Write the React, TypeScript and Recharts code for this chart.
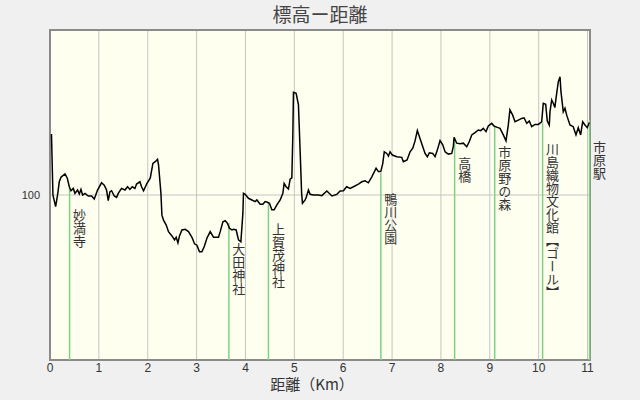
import { LineChart, Line, XAxis, YAxis, CartesianGrid, ReferenceLine, ReferenceDot, ReferenceArea } from 'recharts'

// 距離 (km) と標高 (m)
const distKm = [
  0.03, 0.06, 0.115, 0.155, 0.19, 0.225, 0.307, 0.354, 0.395, 0.43, 0.476, 0.511, 0.564, 0.599, 0.634, 0.667,
  0.716, 0.783, 0.851, 0.906, 0.973, 1.055, 1.11, 1.157, 1.192, 1.227, 1.26, 1.315, 1.362, 1.397, 1.464, 1.534,
  1.587, 1.636, 1.683, 1.738, 1.771, 1.84, 1.873, 1.914, 1.984, 2.051, 2.106, 2.153, 2.2, 2.221, 2.27, 2.29,
  2.323, 2.378, 2.425, 2.495, 2.548, 2.583, 2.618, 2.65, 2.699, 2.767, 2.834, 2.904, 2.957, 3.006, 3.059, 3.108,
  3.155, 3.211, 3.278, 3.346, 3.448, 3.483, 3.538, 3.585, 3.632, 3.673, 3.722, 3.755, 3.81, 3.857, 3.906, 3.947,
  3.959, 3.994, 4.061, 4.131, 4.198, 4.233, 4.301, 4.356, 4.403, 4.45, 4.491, 4.54, 4.587, 4.642, 4.71, 4.765,
  4.791, 4.832, 4.879, 4.914, 4.949, 4.969, 4.982, 5.037, 5.084, 5.119, 5.149, 5.166, 5.221, 5.247, 5.288, 5.323,
  5.391, 5.493, 5.562, 5.665, 5.77, 5.869, 5.937, 6.004, 6.07, 6.141, 6.209, 6.311, 6.38, 6.448, 6.515, 6.585,
  6.673, 6.72, 6.769, 6.81, 6.84, 6.892, 6.925, 6.959, 7.006, 7.096, 7.198, 7.231, 7.307, 7.368, 7.423, 7.47,
  7.517, 7.558, 7.628, 7.675, 7.722, 7.763, 7.832, 7.879, 7.926, 7.982, 8.037, 8.084, 8.151, 8.221, 8.254, 8.268,
  8.323, 8.391, 8.458, 8.528, 8.581, 8.63, 8.697, 8.765, 8.814, 8.867, 8.922, 8.969, 9.039, 9.086, 9.153, 9.209,
  9.276, 9.331, 9.378, 9.411, 9.468, 9.515, 9.583, 9.652, 9.7, 9.755, 9.808, 9.857, 9.924, 9.992, 10.061, 10.094,
  10.143, 10.176, 10.217, 10.231, 10.266, 10.299, 10.331, 10.354, 10.401, 10.436, 10.456, 10.503, 10.538, 10.573, 10.64, 10.707,
  10.763, 10.81, 10.859, 10.9, 10.947, 10.994, 11.035,
]
const elevM = [
  118.5, 100.0, 96.5, 100.0, 104.0, 105.4, 106.4, 105.1, 102.5, 101.3, 102.0, 100.5, 101.5, 100.3, 101.7, 100.0,
  100.5, 99.7, 99.7, 98.8, 101.5, 103.7, 103.0, 101.5, 98.3, 101.0, 101.3, 99.7, 99.3, 100.5, 102.0, 101.5,
  102.5, 101.7, 102.5, 102.0, 103.3, 104.0, 102.5, 101.3, 103.5, 105.1, 109.6, 110.1, 110.8, 109.1, 100.5, 93.9,
  92.4, 90.9, 88.9, 87.6, 86.4, 87.2, 85.5, 87.6, 89.4, 89.6, 88.9, 87.2, 85.2, 84.8, 82.8, 82.8,
  84.3, 86.9, 88.9, 87.2, 87.2, 88.9, 91.9, 92.2, 91.4, 89.9, 89.4, 89.6, 89.4, 86.4, 85.8, 94.5,
  100.5, 100.2, 99.0, 98.5, 98.0, 98.5, 97.2, 97.2, 98.0, 97.8, 97.5, 95.5, 95.5, 97.0, 98.5, 100.5,
  103.5, 102.5, 101.8, 104.8, 105.2, 118.2, 131.1, 130.8, 127.3, 113.1, 100.5, 97.5, 98.5, 99.5, 101.5, 100.2,
  100.0, 100.0, 99.8, 101.2, 99.7, 100.2, 101.2, 101.3, 102.5, 102.0, 102.5, 103.3, 104.0, 104.3, 103.7, 105.5,
  108.1, 107.1, 107.1, 109.6, 113.1, 112.6, 111.8, 113.1, 112.1, 111.6, 111.4, 110.1, 110.6, 113.1, 114.2, 116.4,
  119.5, 117.7, 114.6, 112.6, 111.6, 112.8, 112.6, 111.6, 113.6, 116.5, 115.2, 113.1, 112.4, 112.6, 114.8, 117.5,
  115.7, 115.5, 115.7, 114.6, 116.2, 118.2, 118.9, 119.7, 119.5, 120.2, 119.2, 120.9, 121.7, 120.9, 120.5, 120.2,
  118.2, 116.4, 121.2, 125.8, 124.2, 122.2, 122.7, 123.2, 123.4, 121.7, 122.4, 120.7, 121.4, 121.4, 122.2, 127.8,
  127.5, 122.4, 121.2, 125.2, 128.8, 127.8, 126.5, 129.3, 134.3, 135.8, 131.3, 125.2, 126.3, 124.2, 121.2, 120.7,
  118.2, 120.4, 118.2, 122.2, 121.2, 120.4, 122.0,
]

const spotNames = ['妙満寺', '大田神社', '上賀茂神社', '鴨川公園', '高橋', '市原野の森', '川島織物文化館【ゴール】', '市原駅']
const spotKm = [0.4, 3.66, 4.47, 6.77, 8.28, 9.1, 10.08, 11.04]
const spotElev = [102.1, 91.5, 97.6, 106.7, 117.6, 120.9, 121.9, 122.7]

const xTicks = [0, 1, 2, 3, 4, 5, 6, 7, 8, 9, 10, 11]
const yTicks = [100]

const data = distKm.map((km, i) => ({ km, elev: elevM[i] }))

const JP = "'Noto Sans CJK JP', sans-serif"

const spotLabel = (name: string) => (p: any) => (
  <text
    x={p.cx + 10}
    y={p.cy + 20}
    fill="#333"
    fontSize={13}
    fontFamily={JP}
    style={{ writingMode: 'vertical-rl' }}
  >
    {name}
  </text>
)

const xLabel = (p: any) => {
  const vb = p.viewBox
  return (
    <text x={vb.x + vb.width / 2 - 8} y={vb.y + vb.height - 10} textAnchor="middle" fill="#333" fontSize={15} fontFamily={JP}>
      距離（Km）
    </text>
  )
}

export default function App() {
  return (
    <div style={{ position: 'absolute', left: 0, top: 0, width: 640, height: 400, background: '#f0f0f0', overflow: 'hidden' }}>
      <div style={{ position: 'absolute', top: 0, left: 0, width: 640, textAlign: 'center', fontSize: 19, lineHeight: '28px', color: '#444', fontFamily: JP }}>
        標高ー距離
      </div>
      <LineChart width={640} height={400} data={data} margin={{ top: 30, right: 50, left: 6, bottom: 0 }}>
        <CartesianGrid fill="#fffff0" fillOpacity={1} stroke="#c4c4c4" strokeWidth={1} />
        <XAxis
          type="number"
          dataKey="km"
          domain={[0, 11.05]}
          ticks={xTicks}
          allowDataOverflow
          height={40}
          axisLine={false}
          tickLine={false}
          tickSize={1}
          tickMargin={2}
          stroke="#333"
          tick={{ fontSize: 12, fill: '#333', stroke: 'none', fontFamily: 'Liberation Sans' }}
          label={xLabel}
        />
        <YAxis
          type="number"
          domain={[50, 150]}
          ticks={yTicks}
          width={44}
          axisLine={false}
          tickLine={false}
          tickMargin={4}
          stroke="#333"
          tick={{ fontSize: 11, fill: '#333', stroke: 'none', fontFamily: 'Liberation Sans' }}
        />
        {spotKm.map((km, i) => (
          <ReferenceLine
            key={'l' + i}
            segment={[{ x: km, y: 50 }, { x: km, y: spotElev[i] }]}
            stroke="#80d080"
            strokeWidth={1.5}
          />
        ))}
        <ReferenceArea x1={0} x2={11.05} y1={50} y2={150} fill="none" stroke="#8a8a8a" strokeWidth={2} />
        <Line type="linear" dataKey="elev" stroke="#000" strokeWidth={1.5} dot={false} isAnimationActive={false} />
        {spotKm.map((km, i) => (
          <ReferenceDot key={'d' + i} x={km} y={spotElev[i]} r={0} shape={spotLabel(spotNames[i])} />
        ))}
      </LineChart>
    </div>
  )
}
